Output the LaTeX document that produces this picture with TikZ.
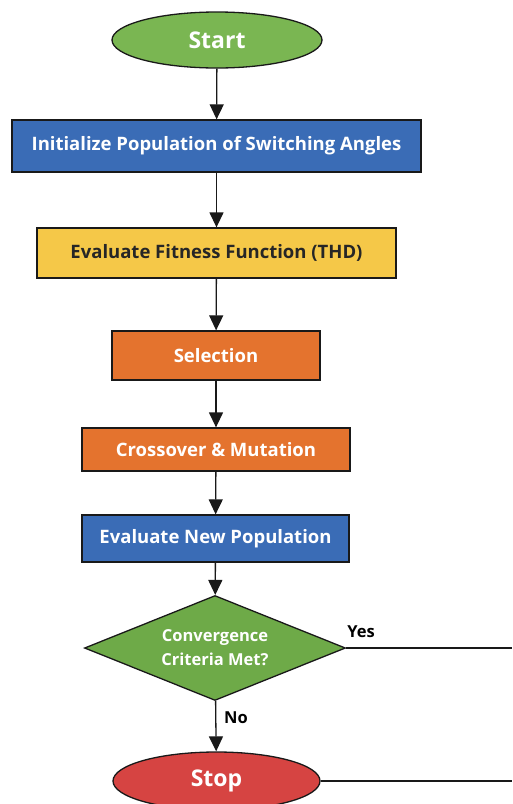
\documentclass[tikz,border=0pt]{standalone}
\usepackage{fontspec}
\setmainfont{Open Sans}
\usetikzlibrary{arrows.meta,shapes.geometric}
\definecolor{startgreen}{RGB}{122,182,82}
\definecolor{boxblue}{RGB}{58,108,182}
\definecolor{boxyellow}{RGB}{245,200,72}
\definecolor{boxorange}{RGB}{228,115,46}
\definecolor{diagreen}{RGB}{110,170,72}
\definecolor{stopred}{RGB}{214,68,66}
\definecolor{linegray}{RGB}{25,25,25}
\tikzset{
  base/.style={draw=linegray,line width=1.3pt,inner sep=0pt,font=\bfseries\fontsize{18.5}{22}\selectfont,text=white},
  terminal/.style={base,ellipse,minimum width=210pt,minimum height=56pt,font=\bfseries\fontsize{23}{26}\selectfont},
  procbox/.style={base,rectangle},
  decision/.style={base,diamond,aspect=2.5,minimum width=261pt,minimum height=105pt,align=center,font=\bfseries\fontsize{16.5}{24}\selectfont},
  flow/.style={draw=linegray,line width=1.3pt,-{Triangle[length=15pt,width=14pt]}},
  plain/.style={draw=linegray,line width=1.3pt},
  lbl/.style={font=\bfseries\fontsize{16.5}{20}\selectfont,text=black,inner sep=0pt}
}
\begin{document}
\begin{tikzpicture}[x=1pt,y=-1pt]
\useasboundingbox[fill=white] (0,0) rectangle (512,804);
\node[terminal,fill=startgreen] (start) at (217,40) {Start};
\node[procbox,fill=boxblue,minimum width=409pt,minimum height=52pt] (init) at (216.5,146) {Initialize Population of Switching Angles};
\node[procbox,fill=boxyellow,minimum width=359pt,minimum height=50pt,text=black!85] (fit) at (216.5,253) {Evaluate Fitness Function (THD)};
\node[procbox,fill=boxorange,minimum width=208pt,minimum height=49pt] (sel) at (216,355.5) {Selection};
\node[procbox,fill=boxorange,minimum width=268pt,minimum height=43pt] (cross) at (216,449.5) {Crossover \& Mutation};
\node[procbox,fill=boxblue,minimum width=267pt,minimum height=47pt] (evalnew) at (215.5,538.5) {Evaluate New Population};
\node[decision,fill=diagreen] (conv) at (215,648) {Convergence\\Criteria Met?};
\node[terminal,fill=stopred,minimum width=207pt,minimum height=58pt] (stop) at (216.5,781) {Stop};
\coordinate (yesend) at (512,648);
\coordinate (stopend) at (512,781);
\draw[flow] (start) -- (init);
\draw[flow] (init) -- (fit);
\draw[flow] (fit) -- (sel);
\draw[flow] (sel) -- (cross);
\draw[flow] (cross) -- (evalnew);
\draw[flow] (evalnew) -- (conv);
\draw[flow] (conv) -- (stop);
\draw[plain] (conv.east) -- (yesend);
\draw[plain] (stop.east) -- (stopend);
\node[lbl] (yes) at (361,632) {Yes};
\node[lbl] (no) at (236,718) {No};
\end{tikzpicture}
\end{document}
